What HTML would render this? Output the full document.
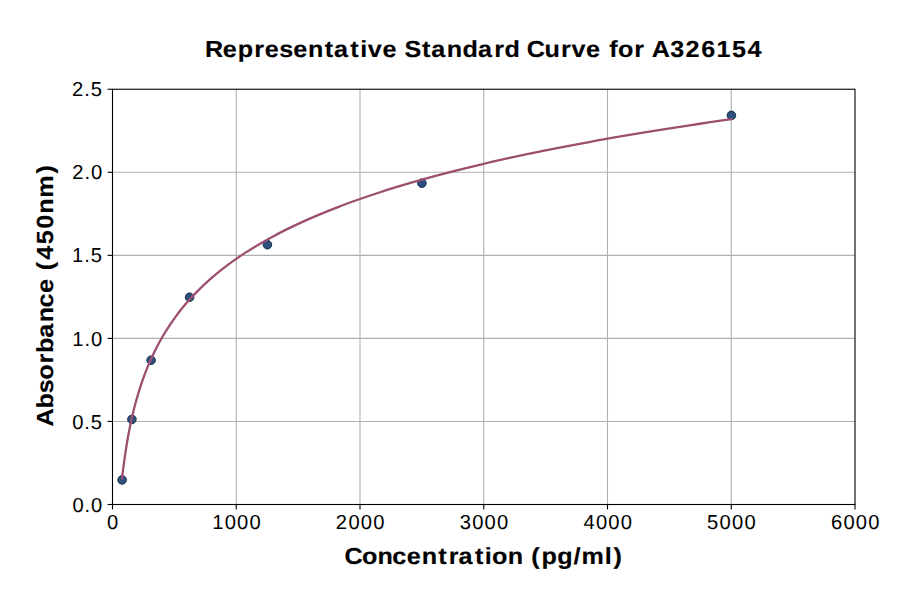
<!DOCTYPE html>
<html><head><meta charset="utf-8"><style>html,body{margin:0;padding:0;background:#fff;}svg{display:block;}</style></head>
<body><svg width="900" height="594" viewBox="0 0 900 594">
<rect width="900" height="594" fill="#fff"/>
<line x1="236.25" y1="89.25" x2="236.25" y2="504.5" stroke="#b0b0b0" stroke-width="1.1"/>
<line x1="360.00" y1="89.25" x2="360.00" y2="504.5" stroke="#b0b0b0" stroke-width="1.1"/>
<line x1="483.75" y1="89.25" x2="483.75" y2="504.5" stroke="#b0b0b0" stroke-width="1.1"/>
<line x1="607.50" y1="89.25" x2="607.50" y2="504.5" stroke="#b0b0b0" stroke-width="1.1"/>
<line x1="731.25" y1="89.25" x2="731.25" y2="504.5" stroke="#b0b0b0" stroke-width="1.1"/>
<line x1="112.5" y1="421.45" x2="855.0" y2="421.45" stroke="#b0b0b0" stroke-width="1.1"/>
<line x1="112.5" y1="338.40" x2="855.0" y2="338.40" stroke="#b0b0b0" stroke-width="1.1"/>
<line x1="112.5" y1="255.35" x2="855.0" y2="255.35" stroke="#b0b0b0" stroke-width="1.1"/>
<line x1="112.5" y1="172.30" x2="855.0" y2="172.30" stroke="#b0b0b0" stroke-width="1.1"/>
<line x1="112.50" y1="504.5" x2="112.50" y2="509.4" stroke="#000" stroke-width="1.1"/>
<line x1="236.25" y1="504.5" x2="236.25" y2="509.4" stroke="#000" stroke-width="1.1"/>
<line x1="360.00" y1="504.5" x2="360.00" y2="509.4" stroke="#000" stroke-width="1.1"/>
<line x1="483.75" y1="504.5" x2="483.75" y2="509.4" stroke="#000" stroke-width="1.1"/>
<line x1="607.50" y1="504.5" x2="607.50" y2="509.4" stroke="#000" stroke-width="1.1"/>
<line x1="731.25" y1="504.5" x2="731.25" y2="509.4" stroke="#000" stroke-width="1.1"/>
<line x1="855.00" y1="504.5" x2="855.00" y2="509.4" stroke="#000" stroke-width="1.1"/>
<line x1="107.60" y1="504.50" x2="112.5" y2="504.50" stroke="#000" stroke-width="1.1"/>
<line x1="107.60" y1="421.45" x2="112.5" y2="421.45" stroke="#000" stroke-width="1.1"/>
<line x1="107.60" y1="338.40" x2="112.5" y2="338.40" stroke="#000" stroke-width="1.1"/>
<line x1="107.60" y1="255.35" x2="112.5" y2="255.35" stroke="#000" stroke-width="1.1"/>
<line x1="107.60" y1="172.30" x2="112.5" y2="172.30" stroke="#000" stroke-width="1.1"/>
<line x1="107.60" y1="89.25" x2="112.5" y2="89.25" stroke="#000" stroke-width="1.1"/>
<circle cx="122.1" cy="479.9" r="4.3" fill="#2c4f7c" stroke="#1a3050" stroke-width="1"/>
<circle cx="131.9" cy="419.4" r="4.3" fill="#2c4f7c" stroke="#1a3050" stroke-width="1"/>
<circle cx="151.1" cy="360.2" r="4.3" fill="#2c4f7c" stroke="#1a3050" stroke-width="1"/>
<circle cx="189.6" cy="297.2" r="4.3" fill="#2c4f7c" stroke="#1a3050" stroke-width="1"/>
<circle cx="267.4" cy="244.7" r="4.3" fill="#2c4f7c" stroke="#1a3050" stroke-width="1"/>
<circle cx="421.9" cy="183.2" r="4.3" fill="#2c4f7c" stroke="#1a3050" stroke-width="1"/>
<circle cx="731.4" cy="115.4" r="4.3" fill="#2c4f7c" stroke="#1a3050" stroke-width="1"/>
<path d="M122.07 478.38 L122.24 476.88 L122.41 475.37 L122.59 473.86 L122.77 472.36 L122.95 470.85 L123.14 469.35 L123.32 467.84 L123.52 466.34 L123.71 464.83 L123.91 463.33 L124.11 461.83 L124.32 460.32 L124.53 458.82 L124.74 457.32 L124.96 455.81 L125.18 454.31 L125.40 452.81 L125.63 451.30 L125.86 449.80 L126.10 448.30 L126.34 446.80 L126.58 445.30 L126.83 443.80 L127.09 442.29 L127.34 440.79 L127.61 439.29 L127.87 437.79 L128.14 436.29 L128.42 434.79 L128.70 433.29 L128.99 431.79 L129.28 430.29 L129.58 428.79 L129.88 427.29 L130.18 425.79 L130.50 424.29 L130.81 422.79 L131.14 421.29 L131.47 419.79 L131.80 418.30 L132.14 416.80 L132.49 415.30 L132.84 413.80 L133.20 412.30 L133.56 410.80 L133.93 409.31 L134.31 407.81 L134.70 406.31 L135.09 404.81 L135.49 403.32 L135.89 401.82 L136.30 400.32 L136.72 398.82 L137.15 397.33 L137.59 395.83 L138.03 394.33 L138.48 392.84 L138.94 391.34 L139.40 389.84 L139.88 388.35 L140.36 386.85 L140.85 385.35 L141.35 383.86 L141.86 382.36 L142.37 380.86 L142.90 379.37 L143.43 377.87 L143.98 376.38 L144.53 374.88 L145.10 373.38 L145.67 371.89 L146.26 370.39 L146.85 368.90 L147.45 367.40 L148.07 365.91 L148.70 364.41 L149.33 362.91 L149.98 361.42 L150.64 359.92 L151.31 358.43 L152.00 356.93 L152.69 355.44 L153.40 353.94 L154.12 352.45 L154.85 350.95 L155.59 349.46 L156.35 347.96 L157.12 346.46 L157.91 344.97 L158.71 343.47 L159.52 341.98 L160.35 340.48 L161.19 338.99 L162.05 337.49 L162.92 336.00 L163.81 334.50 L164.71 333.01 L165.63 331.51 L166.56 330.02 L167.51 328.52 L168.48 327.03 L169.46 325.53 L170.46 324.03 L171.48 322.54 L172.52 321.04 L173.58 319.55 L174.65 318.05 L175.74 316.56 L176.85 315.06 L177.99 313.56 L179.14 312.07 L180.31 310.57 L181.50 309.08 L182.71 307.58 L183.95 306.08 L185.20 304.59 L186.48 303.09 L187.78 301.60 L189.10 300.10 L190.45 298.60 L191.82 297.11 L193.22 295.61 L194.63 294.11 L196.08 292.62 L197.55 291.12 L199.04 289.62 L200.56 288.13 L202.11 286.63 L203.68 285.13 L205.29 283.63 L206.92 282.14 L208.58 280.64 L210.26 279.14 L211.98 277.64 L213.73 276.14 L215.51 274.65 L217.32 273.15 L219.16 271.65 L221.03 270.15 L222.94 268.65 L224.88 267.15 L226.86 265.65 L228.87 264.16 L230.91 262.66 L232.99 261.16 L235.11 259.66 L237.26 258.16 L239.45 256.66 L241.68 255.16 L243.95 253.66 L246.26 252.16 L248.61 250.66 L251.00 249.16 L253.43 247.66 L255.91 246.15 L258.43 244.65 L260.99 243.15 L263.60 241.65 L266.25 240.15 L268.96 238.65 L271.70 237.15 L274.50 235.64 L277.35 234.14 L280.24 232.64 L283.19 231.13 L286.18 229.63 L289.24 228.13 L292.34 226.62 L295.50 225.12 L298.71 223.62 L301.98 222.11 L305.31 220.61 L308.70 219.10 L312.14 217.60 L315.65 216.09 L319.22 214.59 L322.85 213.08 L326.54 211.58 L330.30 210.07 L334.12 208.57 L338.02 207.06 L341.98 205.55 L346.01 204.04 L350.11 202.54 L354.28 201.03 L358.53 199.52 L362.85 198.01 L367.24 196.51 L371.72 195.00 L376.27 193.49 L380.90 191.98 L385.61 190.47 L390.41 188.96 L395.29 187.45 L400.25 185.94 L405.31 184.43 L410.45 182.92 L415.68 181.41 L421.00 179.90 L426.42 178.38 L431.93 176.87 L437.54 175.36 L443.25 173.85 L449.06 172.33 L454.97 170.82 L460.98 169.31 L467.10 167.79 L473.32 166.28 L479.66 164.77 L486.11 163.25 L492.67 161.74 L499.34 160.22 L506.13 158.70 L513.04 157.19 L520.08 155.67 L527.23 154.15 L534.52 152.64 L541.93 151.12 L549.46 149.60 L557.14 148.08 L564.94 146.57 L572.89 145.05 L580.97 143.53 L589.20 142.01 L597.56 140.49 L606.08 138.97 L614.75 137.45 L623.56 135.93 L632.54 134.40 L641.67 132.88 L650.96 131.36 L660.41 129.84 L670.03 128.31 L679.82 126.79 L689.78 125.27 L699.91 123.74 L710.23 122.22 L720.72 120.69 L731.40 119.17" fill="none" stroke="#9c4f70" stroke-width="2.3" stroke-linecap="round" stroke-linejoin="round"/>
<rect x="112.5" y="89.25" width="742.50" height="415.25" fill="none" stroke="#000" stroke-width="1.1"/>
<text transform="translate(106.38 528.70) scale(1.0 1)" x="0.56" y="0" font-family="Liberation Sans, sans-serif" text-rendering="geometricPrecision" font-size="20.2">0</text>
<text transform="translate(211.69 528.70) scale(1.0 1)" x="0.46 12.97 25.38 37.78" y="0" font-family="Liberation Sans, sans-serif" text-rendering="geometricPrecision" font-size="20.2">1000</text>
<text transform="translate(335.44 528.70) scale(1.0 1)" x="0.31 12.97 25.38 37.78" y="0" font-family="Liberation Sans, sans-serif" text-rendering="geometricPrecision" font-size="20.2">2000</text>
<text transform="translate(459.19 528.70) scale(1.0 1)" x="0.59 12.97 25.38 37.78" y="0" font-family="Liberation Sans, sans-serif" text-rendering="geometricPrecision" font-size="20.2">3000</text>
<text transform="translate(582.94 528.70) scale(1.0 1)" x="0.56 12.97 25.38 37.78" y="0" font-family="Liberation Sans, sans-serif" text-rendering="geometricPrecision" font-size="20.2">4000</text>
<text transform="translate(706.62 528.70) scale(1.0 1)" x="0.49 12.97 25.38 37.78" y="0" font-family="Liberation Sans, sans-serif" text-rendering="geometricPrecision" font-size="20.2">5000</text>
<text transform="translate(830.44 528.70) scale(1.0 1)" x="0.57 12.97 25.38 37.78" y="0" font-family="Liberation Sans, sans-serif" text-rendering="geometricPrecision" font-size="20.2">6000</text>
<text transform="translate(71.95 511.60) scale(1.0 1)" x="0.56 12.68 19.17" y="0" font-family="Liberation Sans, sans-serif" text-rendering="geometricPrecision" font-size="20.2">0.0</text>
<text transform="translate(71.70 428.55) scale(1.0 1)" x="0.56 12.68 19.09" y="0" font-family="Liberation Sans, sans-serif" text-rendering="geometricPrecision" font-size="20.2">0.5</text>
<text transform="translate(71.83 345.50) scale(1.0 1)" x="0.46 12.68 19.17" y="0" font-family="Liberation Sans, sans-serif" text-rendering="geometricPrecision" font-size="20.2">1.0</text>
<text transform="translate(71.58 262.45) scale(1.0 1)" x="0.46 12.68 19.09" y="0" font-family="Liberation Sans, sans-serif" text-rendering="geometricPrecision" font-size="20.2">1.5</text>
<text transform="translate(71.83 179.40) scale(1.0 1)" x="0.31 12.68 19.17" y="0" font-family="Liberation Sans, sans-serif" text-rendering="geometricPrecision" font-size="20.2">2.0</text>
<text transform="translate(71.58 96.35) scale(1.0 1)" x="0.31 12.68 19.09" y="0" font-family="Liberation Sans, sans-serif" text-rendering="geometricPrecision" font-size="20.2">2.5</text>
<text transform="translate(205.26 56.70) scale(1.08 1)" x="-0.29 16.25 30.20 45.37 55.13 68.47 81.37 95.17 110.56 119.15 134.31 143.52 150.52 164.09 178.03 184.60 200.63 209.22 223.66 238.24 252.54 267.54 277.05 292.01 297.67 314.15 329.41 339.02 352.60 366.53 374.02 382.27 397.26 406.98 413.37 430.45 444.75 459.18 473.48 487.81 501.98" y="0" font-family="Liberation Sans, sans-serif" text-rendering="geometricPrecision" font-weight="bold" stroke="#000" stroke-width="0.15" font-size="23.3">Representative Standard Curve for A326154</text>
<text transform="translate(345.69 564.00) scale(1.08 1)" x="-1.17 15.07 29.50 43.20 56.54 70.35 85.73 95.42 104.48 119.64 128.85 135.56 149.99 164.78 171.92 181.38 195.92 211.04 218.40 239.81 247.90" y="0" font-family="Liberation Sans, sans-serif" text-rendering="geometricPrecision" font-weight="bold" stroke="#000" stroke-width="0.15" font-size="23.3">Concentration (pg/ml)</text>
<g transform="translate(53.2 426.01) rotate(-90)"><text transform="translate(0.00 0.00) scale(1.08 1)" x="-0.43 16.30 30.45 42.91 57.89 67.63 81.70 96.14 109.84 123.18 137.11 144.26 153.91 168.41 182.72 196.58 211.38 233.83" y="0" font-family="Liberation Sans, sans-serif" text-rendering="geometricPrecision" font-weight="bold" stroke="#000" stroke-width="0.15" font-size="23.3">Absorbance (450nm)</text></g>
</svg></body></html>
